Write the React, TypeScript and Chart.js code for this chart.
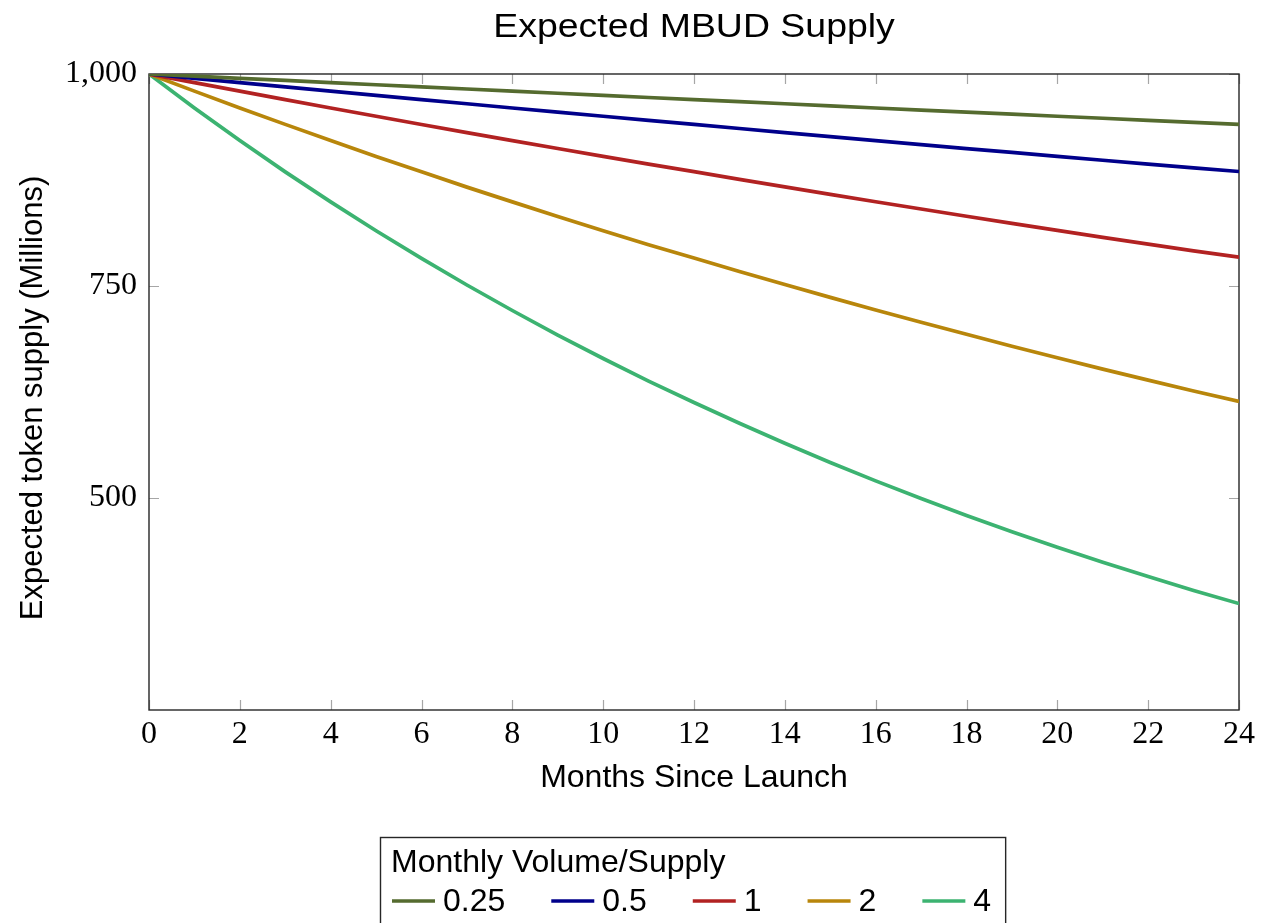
import { useEffect, useRef } from 'react';
import { Chart, registerables } from 'chart.js';

Chart.register(...registerables);

const months = [0, 1, 2, 3, 4, 5, 6, 7, 8, 9, 10, 11, 12, 13, 14, 15, 16, 17, 18, 19, 20, 21, 22, 23, 24];

const seriesLabels = ['0.25', '0.5', '1', '2', '4'];

const supply025 = [1000, 997.4, 994.9, 992.4, 989.8, 987.3, 984.8, 982.3, 979.8, 977.3, 974.8, 972.3, 969.8, 967.4, 964.9, 962.4, 959.9, 957.5, 955.0, 952.6, 950.2, 947.8, 945.4, 943.0, 940.7];
const supply05 = [1000, 994.9, 989.8, 984.8, 979.8, 974.8, 969.8, 964.9, 959.9, 955.0, 950.2, 945.4, 940.5, 935.7, 930.9, 926.2, 921.5, 916.8, 912.1, 907.5, 902.9, 898.3, 893.7, 889.2, 885.0];
const supply1 = [1000, 989.8, 979.8, 969.8, 959.9, 950.2, 940.5, 930.9, 921.5, 912.2, 902.9, 893.7, 884.9, 875.8, 866.9, 858.1, 849.4, 840.8, 832.3, 823.9, 815.6, 807.4, 799.3, 791.4, 784.0];
const supply2 = [1000, 979.8, 959.9, 940.6, 921.5, 902.8, 884.6, 866.6, 849.2, 831.9, 815.2, 798.6, 783.0, 767.2, 751.8, 736.6, 721.8, 707.2, 693.0, 679.0, 665.4, 652.0, 639.0, 626.2, 614.0];
const supply4 = [1000, 959.9, 921.5, 884.6, 849.2, 815.2, 782.5, 751.2, 721.1, 692.2, 664.5, 637.9, 612.6, 588.1, 564.5, 541.9, 520.2, 499.4, 479.4, 460.2, 441.8, 424.2, 407.3, 391.0, 375.5];

const seriesValues = [supply025, supply05, supply1, supply2, supply4];
const seriesColors = ['#556B2F', '#00008B', '#B22222', '#B8860B', '#3CB371'];

const yTickValues = [500, 750, 1000];
const xTickStep = 2;

const chartTitle = 'Expected MBUD Supply';
const xTitle = 'Months Since Launch';
const yTitle = 'Expected token supply (Millions)';
const legendTitle = 'Monthly Volume/Supply';

const SANS = '"Liberation Sans", Arial, Helvetica, sans-serif';
const SERIF = '"Liberation Serif", "Times New Roman", serif';

const decorPlugin = {
  id: 'decor',
  beforeDatasetsDraw(chart: any) {
    const { ctx, chartArea: a, scales } = chart;
    ctx.save();
    ctx.strokeStyle = '#a6a6a6';
    ctx.lineWidth = 1.2;
    const tl = 10;
    scales.x.ticks.forEach((t: any) => {
      const px = Math.round(scales.x.getPixelForValue(t.value)) + 0.5;
      ctx.beginPath();
      ctx.moveTo(px, a.bottom);
      ctx.lineTo(px, a.bottom - tl);
      ctx.moveTo(px, a.top);
      ctx.lineTo(px, a.top + tl);
      ctx.stroke();
    });
    scales.y.ticks.forEach((t: any) => {
      const py = Math.round(scales.y.getPixelForValue(t.value)) + 0.5;
      ctx.beginPath();
      ctx.moveTo(a.left, py);
      ctx.lineTo(a.left + tl, py);
      ctx.moveTo(a.right, py);
      ctx.lineTo(a.right - tl, py);
      ctx.stroke();
    });
    ctx.strokeStyle = '#262626';
    ctx.lineWidth = 1.4;
    ctx.strokeRect(a.left, a.top, a.right - a.left, a.bottom - a.top);
    ctx.restore();
  },
  afterDraw(chart: any) {
    const { ctx, chartArea: a } = chart;
    const cx = (a.left + a.right) / 2;
    ctx.save();
    ctx.fillStyle = '#000';
    ctx.textBaseline = 'alphabetic';

    ctx.font = `32px ${SANS}`;
    ctx.textAlign = 'center';
    ctx.save();
    ctx.translate(cx, 37);
    ctx.scale(1.17, 1.04);
    ctx.fillText(chartTitle, 0, 0);
    ctx.restore();

    ctx.font = `32px ${SANS}`;
    ctx.fillText(xTitle, cx, 787);

    ctx.save();
    ctx.font = `31px ${SANS}`;
    ctx.translate(42, 398);
    ctx.rotate(-Math.PI / 2);
    ctx.textAlign = 'center';
    ctx.fillText(yTitle, 0, 0);
    ctx.restore();

    ctx.font = `32px ${SANS}`;
    ctx.textAlign = 'left';
    const boxLeft = 380;
    const boxTop = 837;
    let x = 392;
    const entries: { x: number; tx: number; w: number }[] = [];
    chart.data.datasets.forEach((ds: any) => {
      const w = ctx.measureText(ds.label).width;
      entries.push({ x, tx: x + 51, w });
      x = x + 51 + w + 46;
    });
    const last = entries[entries.length - 1];
    const boxRight = last.tx + last.w + 14;

    ctx.strokeStyle = '#262626';
    ctx.lineWidth = 1.4;
    ctx.strokeRect(boxLeft + 0.5, boxTop + 0.5, boxRight - boxLeft, 200);

    ctx.fillText(legendTitle, 391, 872);

    chart.data.datasets.forEach((ds: any, i: number) => {
      const e = entries[i];
      ctx.strokeStyle = ds.borderColor;
      ctx.lineWidth = 3.6;
      ctx.beginPath();
      ctx.moveTo(e.x, 901);
      ctx.lineTo(e.x + 43, 901);
      ctx.stroke();
      ctx.fillStyle = '#000';
      ctx.fillText(ds.label, e.tx, 911);
    });

    ctx.restore();
  },
};

export default function App() {
  const canvasRef = useRef<HTMLCanvasElement | null>(null);

  useEffect(() => {
    document.body.style.margin = '0';
    document.body.style.overflow = 'hidden';
    const canvas = canvasRef.current;
    if (!canvas) return;

    const chart = new Chart(canvas, {
      type: 'line',
      data: {
        labels: months,
        datasets: seriesLabels.map((label, i) => ({
          label,
          data: months.map((m, j) => ({ x: m, y: seriesValues[i][j] })),
          borderColor: seriesColors[i],
          backgroundColor: seriesColors[i],
          borderWidth: 3.7,
          pointRadius: 0,
          tension: 0,
          fill: false,
        })),
      },
      options: {
        responsive: false,
        animation: false,
        devicePixelRatio: 1,
        layout: { padding: { left: 0, right: 26, top: 74, bottom: 0 } },
        plugins: {
          legend: { display: false },
          title: { display: false },
          tooltip: { enabled: false },
        },
        scales: {
          x: {
            type: 'linear',
            min: 0,
            max: 24,
            grid: { display: false, drawTicks: false },
            border: { display: false },
            ticks: {
              stepSize: xTickStep,
              color: '#000',
              font: { family: SERIF, size: 32 },
              padding: 5,
              maxRotation: 0,
              autoSkip: false,
            },
            afterFit: (scale: any) => {
              scale.height = 213;
            },
          },
          y: {
            type: 'linear',
            min: 250,
            max: 1000,
            grid: { display: false, drawTicks: false },
            border: { display: false },
            afterBuildTicks: (scale: any) => {
              scale.ticks = yTickValues.map((v) => ({ value: v }));
            },
            ticks: {
              color: '#000',
              font: { family: SERIF, size: 32 },
              padding: 12,
              callback: (v: any) => Number(v).toLocaleString('en-US'),
            },
            afterFit: (scale: any) => {
              scale.width = 149;
            },
          },
        },
      },
      plugins: [decorPlugin],
    });

    return () => {
      chart.destroy();
    };
  }, []);

  return (
    <canvas
      ref={canvasRef}
      width={1265}
      height={923}
      style={{ display: 'block', width: 1265, height: 923 }}
    />
  );
}
